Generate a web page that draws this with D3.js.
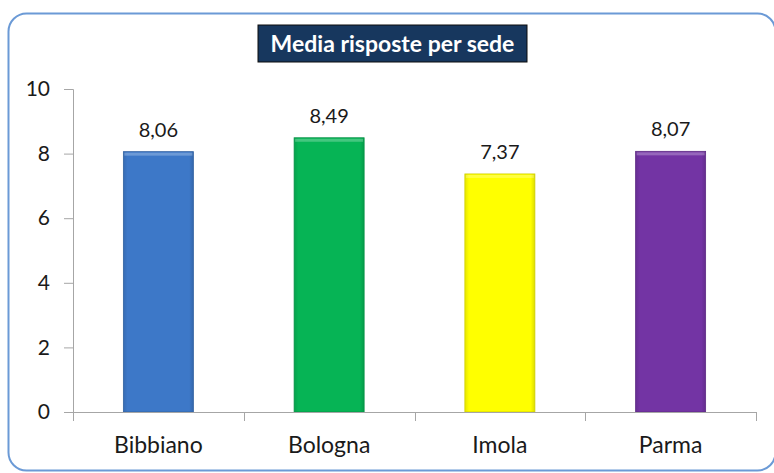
<!DOCTYPE html>
<html>
<head>
<meta charset="utf-8">
<script src="https://cdn.jsdelivr.net/npm/d3@7"></script>
<style>
  body { margin: 0; background: #fff; }
  svg text { font-family: Lato, "Open Sans", sans-serif; }
</style>
</head>
<body>
<div id="chart"></div>
<script>
var categories = ["Bibbiano", "Bologna", "Imola", "Parma"];
var values = [8.06, 8.49, 7.37, 8.07];
var barColors = ["#3d78c8", "#06b455", "#ffff00", "#7334a4"];
var yTicks = [0, 2, 4, 6, 8, 10];

var width = 774, height = 473;
var plot = { left: 73, right: 756, top: 89, bottom: 412 };

var svg = d3.select("#chart").append("svg")
    .attr("width", width)
    .attr("height", height);

// frame
svg.append("rect")
    .attr("x", 8.5).attr("y", 13.5)
    .attr("width", 767).attr("height", 457)
    .attr("rx", 18).attr("ry", 18)
    .attr("fill", "#fff")
    .attr("stroke", "#6b9ad6")
    .attr("stroke-width", 2);

// bar gradients (slight bevel look)
var defs = svg.append("defs");
barColors.forEach(function (c, i) {
    var g = defs.append("linearGradient")
        .attr("id", "grad" + i)
        .attr("x1", 0).attr("y1", 0).attr("x2", 1).attr("y2", 0);
    var col = d3.color(c);
    g.append("stop").attr("offset", "0%").attr("stop-color", col.darker(0.3));
    g.append("stop").attr("offset", "6%").attr("stop-color", c);
    g.append("stop").attr("offset", "94%").attr("stop-color", c);
    g.append("stop").attr("offset", "100%").attr("stop-color", col.darker(0.4));
});

var x = d3.scaleBand()
    .domain(categories)
    .range([plot.left, plot.right])
    .paddingInner(0.59)
    .paddingOuter(0.295);

var y = d3.scaleLinear()
    .domain([0, 10])
    .range([plot.bottom, plot.top]);

// y axis
var yAxis = svg.append("g")
    .attr("transform", "translate(" + plot.left + ",0)")
    .call(d3.axisLeft(y).tickValues(yTicks).tickSize(9).tickPadding(14));
yAxis.select(".domain").attr("stroke", "#a6a6a6");
yAxis.selectAll(".tick line").attr("stroke", "#a6a6a6");
yAxis.selectAll("text")
    .attr("font-size", 21)
    .attr("fill", "#1a1a1a");

// bars
svg.selectAll(".bar")
    .data(values)
    .enter()
    .append("rect")
    .attr("class", "bar")
    .attr("x", function (d, i) { return x(categories[i]); })
    .attr("y", function (d) { return y(d); })
    .attr("width", x.bandwidth())
    .attr("height", function (d) { return y(0) - y(d); })
    .attr("fill", function (d, i) { return "url(#grad" + i + ")"; })
    .attr("stroke", function (d, i) { return d3.color(barColors[i]).darker(0.6); })
    .attr("stroke-width", 0.8);

// bar top highlight
svg.selectAll(".hl")
    .data(values)
    .enter()
    .append("rect")
    .attr("class", "hl")
    .attr("x", function (d, i) { return x(categories[i]) + 1; })
    .attr("y", function (d) { return y(d) + 1; })
    .attr("width", x.bandwidth() - 2)
    .attr("height", 3)
    .attr("fill", "#fff")
    .attr("opacity", 0.25);

// value labels
svg.selectAll(".val")
    .data(values)
    .enter()
    .append("text")
    .attr("class", "val")
    .attr("x", function (d, i) { return x(categories[i]) + x.bandwidth() / 2; })
    .attr("y", function (d) { return y(d) - 15; })
    .attr("text-anchor", "middle")
    .attr("font-size", 20)
    .attr("fill", "#1a1a1a")
    .text(function (d) { return d.toFixed(2).replace(".", ","); });

// x axis
svg.append("line")
    .attr("x1", plot.left).attr("x2", plot.right)
    .attr("y1", plot.bottom + 0.5).attr("y2", plot.bottom + 0.5)
    .attr("stroke", "#a6a6a6");
var boundaries = categories.map(function (c, i) { return plot.left + i * (plot.right - plot.left) / categories.length; });
boundaries.push(plot.right);
svg.selectAll(".xtick")
    .data(boundaries)
    .enter()
    .append("line")
    .attr("class", "xtick")
    .attr("x1", function (d) { return Math.round(d) + 0.5; })
    .attr("x2", function (d) { return Math.round(d) + 0.5; })
    .attr("y1", plot.bottom)
    .attr("y2", plot.bottom + 9)
    .attr("stroke", "#a6a6a6");

svg.selectAll(".cat")
    .data(categories)
    .enter()
    .append("text")
    .attr("class", "cat")
    .attr("x", function (d) { return x(d) + x.bandwidth() / 2; })
    .attr("y", 453)
    .attr("text-anchor", "middle")
    .attr("font-size", 23)
    .attr("fill", "#1a1a1a")
    .text(function (d) { return d; });

// title
svg.append("rect")
    .attr("x", 258).attr("y", 25)
    .attr("width", 269).attr("height", 37)
    .attr("fill", "#17375e")
    .attr("stroke", "#0d0d0d")
    .attr("stroke-width", 1);
svg.append("text")
    .attr("x", 392.5).attr("y", 52)
    .attr("text-anchor", "middle")
    .attr("font-size", 23)
    .attr("font-weight", "bold")
    .attr("fill", "#fff")
    .text("Media risposte per sede");
</script>
</body>
</html>
